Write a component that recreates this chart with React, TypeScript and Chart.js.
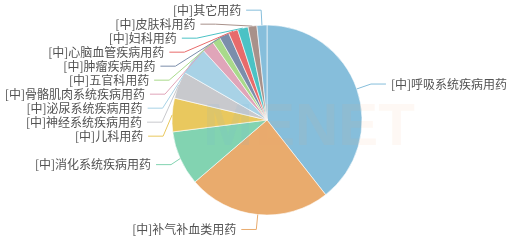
import React, { useEffect, useRef } from "react";
import { Chart, registerables } from "chart.js";

Chart.register(...registerables);

const categories = [
  "[中]呼吸系统疾病用药",
  "[中]补气补血类用药",
  "[中]消化系统疾病用药",
  "[中]儿科用药",
  "[中]神经系统疾病用药",
  "[中]泌尿系统疾病用药",
  "[中]骨骼肌肉系统疾病用药",
  "[中]五官科用药",
  "[中]肿瘤疾病用药",
  "[中]心脑血管疾病用药",
  "[中]妇科用药",
  "[中]皮肤科用药",
  "[中]其它用药",
];

const shares = [39.4, 24.3, 9.3, 5.7, 4.6, 4.9, 2.1, 1.4, 1.7, 1.6, 1.8, 1.5, 1.7];

const palette = [
  "#86bedb",
  "#e9ab6d",
  "#82d3b1",
  "#e9c85e",
  "#c8c9cd",
  "#a8d2e6",
  "#e0a5b9",
  "#a9da8b",
  "#7b8eab",
  "#e86b6b",
  "#4bc2c5",
  "#a8918a",
];

const LEN1 = 15;
const LEN2 = 15;
const ELLIPSE_EXTRA = 10;
const GAP = 5;
const LINE_H = 14;
const FONT = '12px "Noto Sans CJK SC", "Noto Sans", sans-serif';
const TEXT_COLOR = "#525252";

type Item = {
  i: number;
  cx: number;
  cy: number;
  r: number;
  x1: number;
  y1: number;
  dir: number;
  labelX: number;
  labelY: number;
};

const outsideLabels = {
  id: "outsideLabels",
  afterDraw(chart: any) {
    const meta = chart.getDatasetMeta(0);
    const ctx: CanvasRenderingContext2D = chart.ctx;
    const items: Item[] = meta.data.map((arc: any, i: number) => {
      const p = arc.getProps(["x", "y", "startAngle", "endAngle", "outerRadius"], true);
      const mid = (p.startAngle + p.endAngle) / 2;
      const dx = Math.cos(mid);
      const dy = Math.sin(mid);
      const x1 = p.x + p.outerRadius * dx;
      const y1 = p.y + p.outerRadius * dy;
      const x2 = x1 + LEN1 * dx;
      const y2 = y1 + LEN1 * dy;
      const dir = dx < 0 ? -1 : 1;
      return { i, cx: p.x, cy: p.y, r: p.outerRadius, x1, y1, dir, labelX: x2 + dir * LEN2, labelY: y2 };
    });

    for (const dir of [-1, 1]) {
      const list = items.filter((it) => it.dir === dir).sort((a, b) => a.labelY - b.labelY);
      if (list.length < 2) continue;
      let last = 0;
      let adjusted = false;
      for (const it of list) {
        const top = it.labelY - LINE_H / 2;
        if (top < last) {
          it.labelY += last - top;
          adjusted = true;
        }
        last = it.labelY + LINE_H / 2;
      }
      let bottomLimit = chart.height;
      for (let k = list.length - 1; k >= 0; k--) {
        const it = list[k];
        if (it.labelY + LINE_H / 2 > bottomLimit) {
          it.labelY = bottomLimit - LINE_H / 2;
          adjusted = true;
        }
        bottomLimit = it.labelY - LINE_H / 2;
      }
      if (!adjusted) continue;
      const cx = list[0].cx;
      const cy = list[0].cy;
      const semis = [
        { list: [] as Item[], maxY: 0, rB: 0 },
        { list: [] as Item[], maxY: 0, rB: 0 },
      ];
      for (const it of list) {
        const semi = it.labelY > cy ? semis[1] : semis[0];
        const dyA = Math.abs(it.labelY - cy);
        if (dyA >= semi.maxY) {
          const dxx = it.labelX - cx - LEN2 * dir;
          const rA = it.r + ELLIPSE_EXTRA;
          semi.rB = Math.abs(dxx) < rA ? Math.sqrt((dyA * dyA) / (1 - (dxx * dxx) / (rA * rA))) : rA;
          semi.maxY = dyA;
        }
        semi.list.push(it);
      }
      for (const semi of semis) {
        for (const it of semi.list) {
          const dyA = Math.abs(it.labelY - cy);
          const rA = it.r + ELLIPSE_EXTRA;
          const f = Math.max(0, 1 - (dyA * dyA) / (semi.rB * semi.rB));
          const dxn = Math.sqrt(f * rA * rA);
          it.labelX = cx + (dxn + LEN2) * dir;
        }
      }
    }

    ctx.save();
    ctx.font = FONT;
    ctx.textBaseline = "middle";
    for (const it of items) {
      const color = palette[it.i % palette.length];
      const bendX = it.labelX - it.dir * LEN2;
      ctx.strokeStyle = color;
      ctx.lineWidth = 1;
      ctx.beginPath();
      ctx.moveTo(it.x1, it.y1);
      ctx.lineTo(bendX, it.labelY);
      ctx.lineTo(it.labelX, it.labelY);
      ctx.stroke();
      ctx.fillStyle = TEXT_COLOR;
      ctx.textAlign = it.dir < 0 ? "right" : "left";
      ctx.fillText(categories[it.i], it.labelX + it.dir * GAP, it.labelY);
    }

    // faint watermark
    ctx.font = 'bold 60px "Liberation Sans", Arial, sans-serif';
    ctx.textAlign = "left";
    ctx.textBaseline = "alphabetic";
    ctx.fillStyle = "rgba(120,180,215,0.10)";
    ctx.fillText("M", 203, 145);
    ctx.fillStyle = "rgba(245,160,110,0.08)";
    ctx.fillText("ENET", 255, 145);
    ctx.restore();
  },
};

export default function App() {
  const ref = useRef<HTMLCanvasElement | null>(null);
  useEffect(() => {
    if (!ref.current) return;
    const chart = new Chart(ref.current, {
      type: "pie",
      data: {
        labels: categories,
        datasets: [
          {
            data: shares,
            backgroundColor: shares.map((_, i) => palette[i % palette.length]),
            borderColor: "#ffffff",
            borderWidth: 0.6,
            radius: 95,
          } as any,
        ],
      },
      options: {
        responsive: false,
        maintainAspectRatio: false,
        devicePixelRatio: 1,
        animation: false,
        events: [],
        layout: { padding: { left: 30, right: 10, top: 0, bottom: 2 } },
        plugins: {
          legend: { display: false },
          tooltip: { enabled: false },
          title: { display: false },
        },
      },
      plugins: [outsideLabels],
    });
    return () => chart.destroy();
  }, []);
  return (
    <div style={{ position: "fixed", left: 0, top: 0, width: 514, height: 242, background: "#fff" }}>
      <canvas ref={ref} width={514} height={242} style={{ display: "block" }} />
    </div>
  );
}
